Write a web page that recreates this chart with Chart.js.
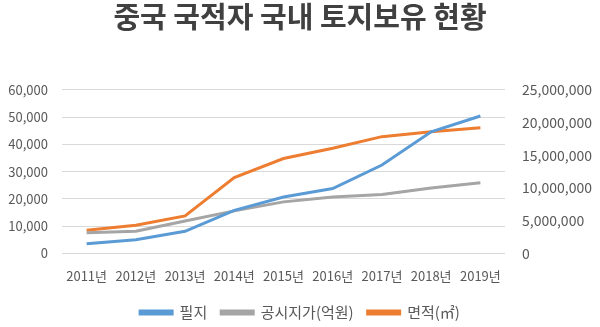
<!DOCTYPE html>
<html>
<head>
<meta charset="utf-8">
<script src="https://cdn.jsdelivr.net/npm/chart.js@4"></script>
<style>
  html, body { margin: 0; padding: 0; background: #ffffff; }
  #wrap { width: 600px; height: 327px; position: relative; }
</style>
</head>
<body>
<div id="wrap"><canvas id="chart"></canvas></div>
<script>
Chart.defaults.color = '#595959';
Chart.defaults.font.family = "'Noto Sans CJK KR', 'Noto Sans', sans-serif";
Chart.defaults.font.size = 13;

const years   = ['2011년', '2012년', '2013년', '2014년', '2015년', '2016년', '2017년', '2018년', '2019년'];
const parcels = [3500, 5000, 8100, 15800, 20700, 23800, 32400, 44600, 50400];
const prices  = [7600, 8100, 11900, 15600, 18900, 20700, 21600, 24000, 25900];
const areas   = [3530000, 4290000, 5720000, 11600000, 14500000, 16060000, 17840000, 18600000, 19200000];

const COLORS = {
  blue:   '#5B9BD5',
  gray:   '#A5A5A5',
  orange: '#ED7D31',
  grid:   '#D9D9D9',
};

const fmt = v => Number(v).toLocaleString('en-US');

function line(label, data, color, axis) {
  return {
    label, data, yAxisID: axis,
    borderColor: color, backgroundColor: color,
    borderWidth: 3, pointRadius: 0, tension: 0, fill: false,
  };
}

new Chart(document.getElementById('chart'), {
  type: 'line',
  data: {
    labels: years,
    datasets: [
      line('필지', parcels, COLORS.blue, 'y'),
      line('공시지가(억원)', prices, COLORS.gray, 'y'),
      line('면적(㎡)', areas, COLORS.orange, 'y1'),
    ]
  },
  options: {
    responsive: true, maintainAspectRatio: false, animation: false,
    layout: { padding: { left: 0, right: 0, top: 0, bottom: -3 } },
    plugins: {
      title: {
        display: true,
        text: '중국 국적자 국내 토지보유 현황',
        color: '#404040',
        font: { size: 29, weight: 'bold' },
        padding: { top: 0, bottom: 55 },
      },
      legend: {
        position: 'bottom',
        labels: { boxWidth: 32, boxHeight: 3, padding: 14, color: '#595959', font: { size: 15 } }
      },
      tooltip: { enabled: false },
    },
    scales: {
      x: {
        offset: true,
        grid: { display: false },
        border: { display: false },
        ticks: { color: '#595959', maxRotation: 0, padding: 7 },
      },
      y: {
        position: 'left', min: 0, max: 60000,
        grid: { color: COLORS.grid, drawTicks: false },
        border: { display: false },
        ticks: { stepSize: 10000, padding: 14, callback: fmt },
        afterFit: s => { s.width = 62; },
      },
      y1: {
        position: 'right', min: 0, max: 25000000,
        grid: { display: false },
        border: { display: false },
        ticks: { stepSize: 5000000, padding: 9, font: { size: 14 }, callback: fmt },
        afterFit: s => { s.width = 95; },
      },
    }
  }
});
</script>
</body>
</html>
